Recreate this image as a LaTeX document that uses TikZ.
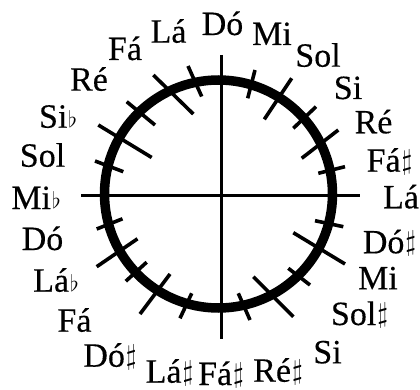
\documentclass[tikz,border=0pt]{standalone}
\usepackage{fontspec}
\setmainfont{Liberation Serif}[FakeBold=0.3]
\newcommand\mysharp{\hspace{1pt}\raisebox{-3pt}{\resizebox*{!}{25pt}{\raisebox{\depth}{$\sharp$}}}}
\newcommand\myflat{\hspace{1pt}\raisebox{0.5pt}{\resizebox*{!}{17pt}{\raisebox{\depth}{$\flat$}}}}
\tikzset{
  lbl/.style={font=\fontsize{34}{40}\selectfont, inner sep=0pt, anchor=base},
  tickline/.style={line width=3.6pt},
  axisline/.style={line width=3pt},
  ring/.style={line width=9.5pt}
}
\begin{document}
\begin{tikzpicture}[x=1pt,y=-1pt]
\useasboundingbox (0,0) rectangle (420,390);
% axes
\coordinate (hl) at (81,196);
\coordinate (hr) at (360,196);
\coordinate (vt) at (221,55);
\coordinate (vb) at (221,339);
\draw[axisline] (hl) -- (hr);
\draw[axisline] (vt) -- (vb);
% ring
\coordinate (c) at (218.5,194);
\draw[ring] (c) circle (114);
% ticks, top-right
\draw[tickline] (255,70) -- (247.7,98.3);
\draw[tickline] (291.7,78.3) -- (264.3,119.3);
\draw[tickline] (316,106.7) -- (293.3,128.3);
\draw[tickline] (338.3,130) -- (301.7,158.3);
\draw[tickline] (345,166.7) -- (318.3,173.3);
% bottom-right
\draw[tickline] (315,220.7) -- (343.3,226.7);
\draw[tickline] (293.3,232.7) -- (345,264);
\draw[tickline] (288.3,268.3) -- (310,285);
\draw[tickline] (253.3,276.7) -- (293.3,316.7);
\draw[tickline] (238.3,293.3) -- (250,320);
% bottom-left
\draw[tickline] (96.7,229) -- (122.5,218.8);
\draw[tickline] (96.7,266.7) -- (137.5,238.8);
\draw[tickline] (125.8,281.2) -- (146.7,262.2);
\draw[tickline] (140,314) -- (170,274);
\draw[tickline] (180,318.3) -- (191.7,293.3);
% top-left
\draw[tickline] (95,161) -- (123.3,171.7);
\draw[tickline] (98.3,125) -- (151.7,157.5);
\draw[tickline] (126.7,101.7) -- (155,125);
\draw[tickline] (153.3,75) -- (193.3,114);
\draw[tickline] (188,66) -- (201.7,96.5);
% labels
\node[lbl] (n1)  at (222.5,35)   {Dó};
\node[lbl] (n2)  at (272,45)     {Mi};
\node[lbl] (n3)  at (318,66.7)   {Sol};
\node[lbl] (n4)  at (348,99)     {Si};
\node[lbl] (n5)  at (373.5,133.3) {Ré};
\node[lbl] (n6)  at (389.5,171.7) {Fá\mysharp};
\node[lbl] (n7)  at (401,208.3)  {Lá};
\node[lbl] (n8)  at (389.5,253.3) {Dó\mysharp};
\node[lbl] (n9)  at (378,289.3)  {Mi};
\node[lbl] (n10) at (359.5,325)  {Sol\mysharp};
\node[lbl] (n11) at (327.5,363.3) {Si};
\node[lbl] (n12) at (278,381.7)  {Ré\mysharp};
\node[lbl] (n13) at (221,385)    {Fá\mysharp};
\node[lbl] (n14) at (169.5,382.7) {Lá\mysharp};
\node[lbl] (n15) at (110,366.7)  {Dó\mysharp};
\node[lbl] (n16) at (74.5,331.7) {Fá};
\node[lbl] (n17) at (56,291.7)   {Lá\myflat};
\node[lbl] (n18) at (42.5,250)   {Dó};
\node[lbl] (n19) at (36,209)     {Mi\myflat};
\node[lbl] (n20) at (42.5,166.7) {Sol};
\node[lbl] (n21) at (58,127.7)   {Si\myflat};
\node[lbl] (n22) at (89,90.7)    {Ré};
\node[lbl] (n23) at (125,60)     {Fá};
\node[lbl] (n24) at (168.5,42.7) {Lá};
\end{tikzpicture}
\end{document}
